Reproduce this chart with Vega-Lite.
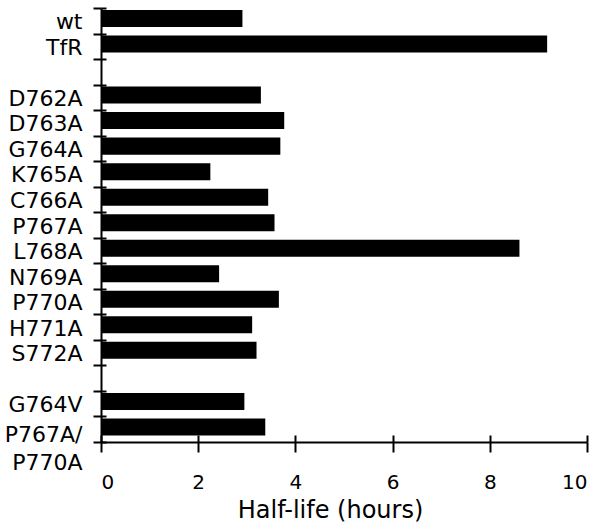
{
  "$schema": "https://vega.github.io/schema/vega-lite/v6.json",
  "width": 486,
  "height": 434,
  "autosize": "none",
  "padding": {"left": 101, "top": 8, "right": 29, "bottom": 89},
  "background": "white",
  "config": {"view": {"stroke": null}, "font": "DejaVu Sans", "axis": {"grid": false}},
  "data": {"values": [
    {"mutant": "wt", "halflife": 2.91},
    {"mutant": "TfR", "halflife": 9.18},
    {"mutant": "D762A", "halflife": 3.29},
    {"mutant": "D763A", "halflife": 3.77},
    {"mutant": "G764A", "halflife": 3.69},
    {"mutant": "K765A", "halflife": 2.25},
    {"mutant": "C766A", "halflife": 3.44},
    {"mutant": "P767A", "halflife": 3.57},
    {"mutant": "L768A", "halflife": 8.61},
    {"mutant": "N769A", "halflife": 2.43},
    {"mutant": "P770A", "halflife": 3.66},
    {"mutant": "H771A", "halflife": 3.11},
    {"mutant": "S772A", "halflife": 3.2},
    {"mutant": "G764V", "halflife": 2.95},
    {"mutant": "P767A/P770A", "halflife": 3.38}
  ]},
  "layer": [
    {
      "mark": {"type": "bar", "color": "black", "height": {"band": 0.667}, "yOffset": -2.3},
      "encoding": {
        "y": {
          "field": "mutant", "type": "nominal",
          "scale": {"domain": ["wt", "TfR", " ", "D762A", "D763A", "G764A", "K765A", "C766A", "P767A", "L768A", "N769A", "P770A", "H771A", "S772A", "  ", "G764V", "P767A/P770A"], "paddingInner": 0, "paddingOuter": 0},
          "axis": {
            "orient": "left", "title": null, "tickBand": "extent",
            "tickSize": 8, "tickWidth": 2, "tickColor": "black",
            "domainWidth": 2, "domainColor": "black",
            "labelFont": "DejaVu Sans", "labelFontSize": 22, "labelColor": "black",
            "labelPadding": 11, "labelLineHeight": 28,
            "labelExpr": "datum.value == 'P767A/P770A' ? ['P767A/', 'P770A'] : datum.value",
            "labelOffset": {"condition": {"test": "datum.value == 'P767A/P770A'", "value": 5}, "value": 1}
          }
        },
        "x": {
          "field": "halflife", "type": "quantitative",
          "scale": {"domain": [0, 10], "nice": false},
          "axis": {
            "orient": "bottom", "values": [0, 2, 4, 6, 8, 10],
            "tickSize": 10, "tickWidth": 2, "tickColor": "black",
            "domainWidth": 2, "domainColor": "black",
            "labelFont": "DejaVu Sans", "labelFontSize": 20, "labelColor": "black", "labelPadding": 20,
            "title": "Half-life (hours)", "titleFont": "DejaVu Sans", "titleFontSize": 24,
            "titleFontWeight": "normal", "titleColor": "black", "titleX": 229, "titleAlign": "center", "titlePadding": 6
          }
        }
      }
    },
    {
      "mark": {"type": "bar", "opacity": 0},
      "encoding": {
        "y": {
          "field": "mutant", "type": "nominal",
          "axis": {"orient": "right", "offset": -486, "title": null, "tickBand": "extent", "tickSize": 5, "tickWidth": 2, "tickColor": "black", "domain": false, "labels": false}
        },
        "x": {
          "field": "halflife", "type": "quantitative",
          "axis": {"orient": "top", "offset": -434, "values": [0, 2, 4, 6, 8, 10], "title": null, "tickSize": 7, "tickWidth": 2, "tickColor": "black", "domain": false, "labels": false}
        }
      }
    }
  ],
  "resolve": {"axis": {"x": "independent", "y": "independent"}}
}
